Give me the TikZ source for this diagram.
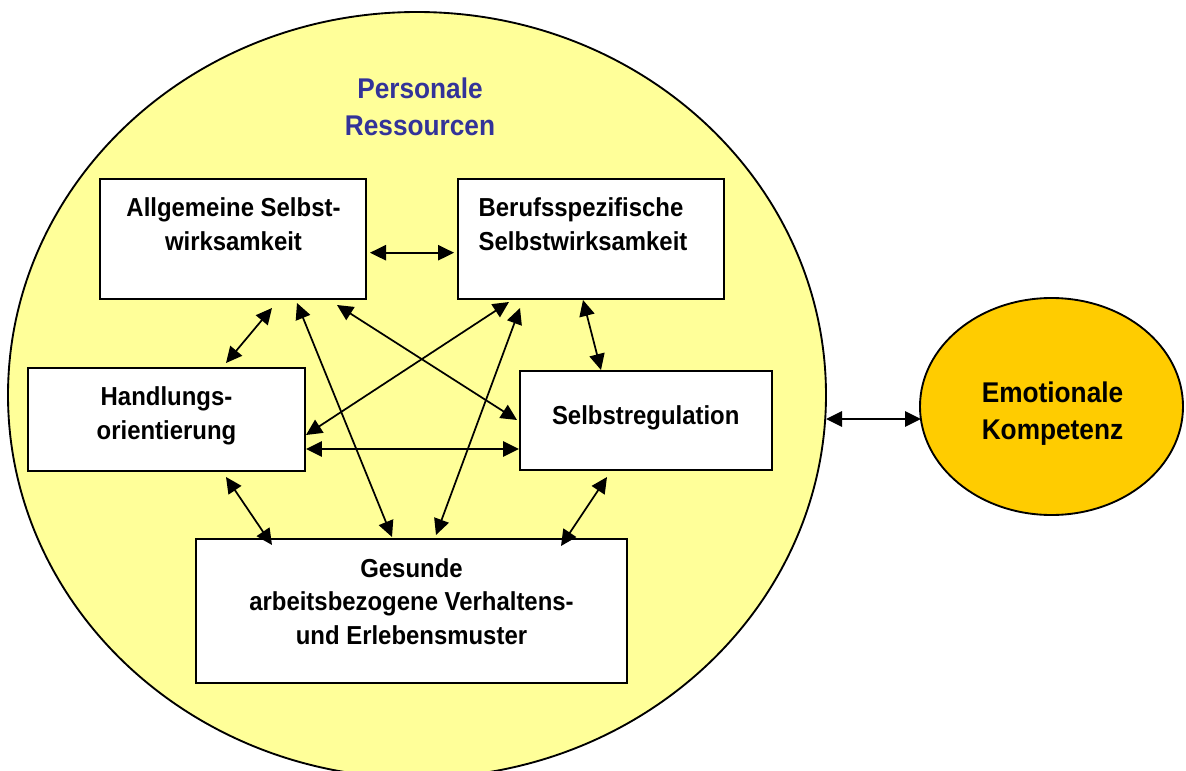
\documentclass[tikz,border=0pt]{standalone}
\usepackage{fontspec}
\newfontfamily\diagfont{Liberation Sans}[FakeStretch=0.92]
\usetikzlibrary{arrows.meta,shapes.geometric}
\definecolor{circfill}{RGB}{255,255,153}
\definecolor{emofill}{RGB}{255,204,0}
\definecolor{headblue}{RGB}{51,51,153}
\tikzset{
  box/.style={draw=black, fill=white, line width=1.5pt, inner sep=0pt, outer sep=0pt},
  txt/.style={font=\diagfont\bfseries\fontsize{19.5pt}{25.3pt}\selectfont, align=center, inner sep=0pt, anchor=base},
  bigtxt/.style={font=\diagfont\bfseries\fontsize{21.4pt}{27.6pt}\selectfont, align=center, inner sep=0pt, anchor=base},
  link/.style={{Triangle[length=12pt,width=11.5pt]}-{Triangle[length=12pt,width=11.5pt]}, line width=1.3pt, draw=black}
}
\begin{document}
\begin{tikzpicture}[x=0.75pt,y=-0.75pt]
\useasboundingbox (0,0) rectangle (1186,771);

% outer circle of personal resources
\node[ellipse, draw=black, fill=circfill, line width=1.4pt, inner sep=0pt, outer sep=0pt,
      minimum width=613.5pt, minimum height=574.5pt] (big) at (417,395) {};
% multi-line labels are anchored at the baseline of their last line
\node[bigtxt, text=headblue] (head) at (420,135) {Personale\\Ressourcen};

% resource boxes
\node[box, minimum width=199.5pt, minimum height=90pt] (allg) at (233,239) {};
\node[box, minimum width=199.5pt, minimum height=90pt] (beruf) at (591,239) {};
\node[box, minimum width=208.1pt, minimum height=77.25pt] (handl) at (166.25,419.5) {};
\node[box, minimum width=189pt, minimum height=74.25pt] (selbst) at (646,420.5) {};
\node[box, minimum width=323.25pt, minimum height=108pt] (gesund) at (411.5,611) {};

\node[txt] (allgT) at (233.5,250) {Allgemeine Selbst-\\wirksamkeit};
\node[txt, align=left, anchor=base west] (berufT) at (478.4,250) {Berufsspezifische\\Selbstwirksamkeit};
\node[txt] (handlT) at (166.5,439.3) {Handlungs-\\orientierung};
\node[txt] (selbstT) at (645.7,424.3) {Selbstregulation};
\node[txt] (gesundT) at (411.5,644.5) {Gesunde\\arbeitsbezogene Verhaltens-\\und Erlebensmuster};

% emotional competence
\node[ellipse, draw=black, fill=emofill, line width=1.4pt, inner sep=0pt, outer sep=0pt,
      minimum width=197.25pt, minimum height=162.75pt] (emo) at (1051.5,406.5) {};
\node[bigtxt] (emoT) at (1052.5,439.5) {Emotionale\\Kompetenz};

% connectors
\draw[link] ([shift={(4,73.7)}]allg.north east) -- ([shift={(-4,73.7)}]beruf.north west);
\draw[link] ([shift={(172,9)}]allg.south west) -- ([shift={(198.5,-5)}]handl.north west);
\draw[link] ([shift={(197,4)}]allg.south west) -- ([shift={(196,-2)}]gesund.north west);
\draw[link] ([shift={(237,6)}]allg.south west) -- ([shift={(-3,49)}]selbst.north west);
\draw[link] ([shift={(51,3)}]beruf.south west) -- ([shift={(1,67)}]handl.north east);
\draw[link] ([shift={(62,9)}]beruf.south west) -- ([shift={(240,-4)}]gesund.north west);
\draw[link] ([shift={(125,1)}]beruf.south west) -- ([shift={(81,-1)}]selbst.north west);
\draw[link] ([shift={(1,81)}]handl.north east) -- ([shift={(-1,78)}]selbst.north west);
\draw[link] ([shift={(198.5,6)}]handl.south west) -- ([shift={(76,6)}]gesund.north west);
\draw[link] ([shift={(87,7)}]selbst.south west) -- ([shift={(365,7)}]gesund.north west);
\draw[link] ([shift={(0,24)}]big.east) -- ([shift={(1,12.5)}]emo.west);
\end{tikzpicture}
\end{document}
